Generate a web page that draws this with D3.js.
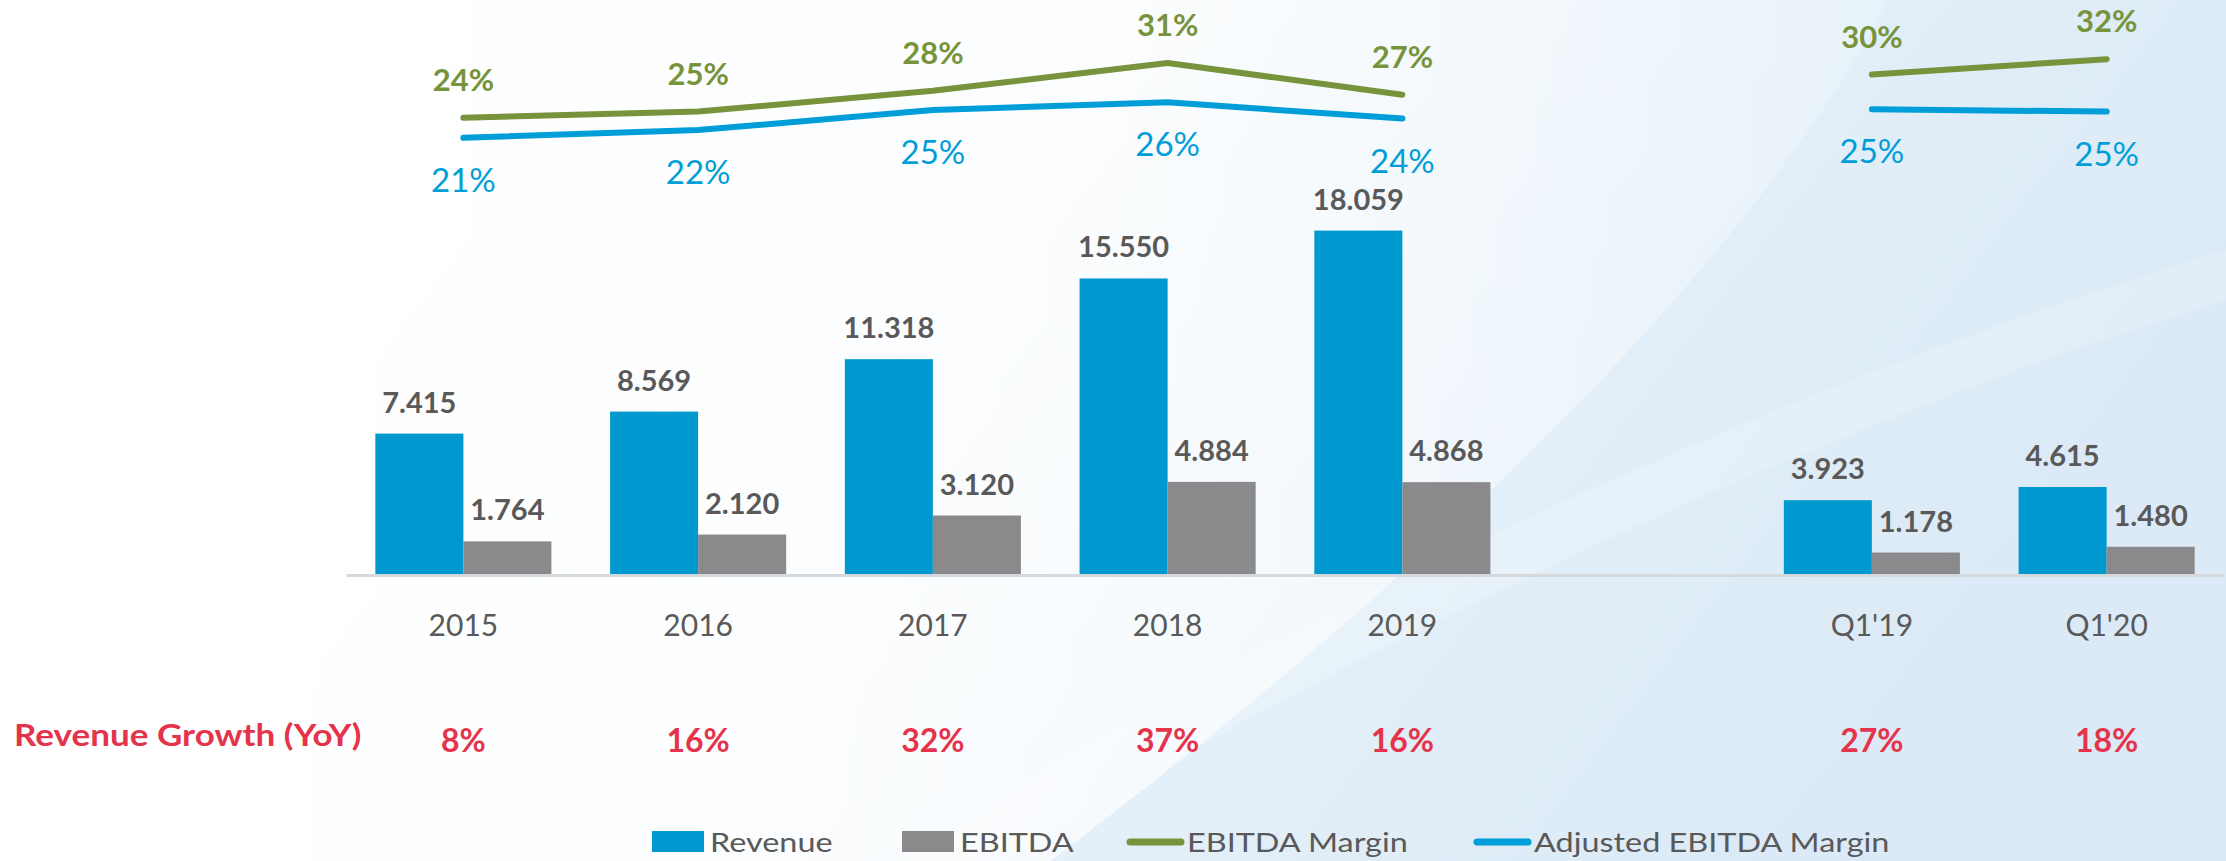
<!DOCTYPE html>
<html><head><meta charset="utf-8">
<script src="https://cdn.jsdelivr.net/npm/d3@7"></script>
<style>
html,body{margin:0;padding:0;background:#fff;}
svg{display:block;}
text{font-family:Lato,"Open Sans",sans-serif;}
</style>
</head><body>
<svg id="chart" width="2226" height="861"></svg>
<script>
// ---- data ----
const categories = ["2015","2016","2017","2018","2019","Q1'19","Q1'20"];
const slots = ["2015","2016","2017","2018","2019","gap","Q1'19","Q1'20"];
const periodType = ["year","year","year","year","year","quarter","quarter"];
const revenue = [7.415, 8.569, 11.318, 15.550, 18.059, 3.923, 4.615];
const ebitda = [1.764, 2.120, 3.120, 4.884, 4.868, 1.178, 1.480];
const ebitdaMargin = [24.0, 24.8, 27.5, 31.1, 27.0, 29.6, 31.6];
const adjEbitdaMargin = [21.4, 22.4, 25.0, 26.0, 23.9, 25.1, 24.8];
const revenueGrowth = [8, 16, 32, 37, 16, 27, 18];
const seriesNames = ["Revenue","EBITDA","EBITDA Margin","Adjusted EBITDA Margin"];
const growthTitle = "Revenue Growth (YoY)";

// ---- styles ----
const C = {rev:"#0099cf", ebit:"#8a8a8c", green:"#77933c", blue:"#009ed8", text:"#595959", red:"#e5334b"};

const svg = d3.select("#chart");
const W = 2226, H = 861;

// background
const defs = svg.append("defs");
const bg = defs.append("linearGradient").attr("id","bg").attr("x1",0).attr("y1",0).attr("x2",1).attr("y2",0.3);
[[0,"#fdfeff"],[0.45,"#f3f8fc"],[0.72,"#e4f0f9"],[1,"#dbeaf6"]].forEach(s=>bg.append("stop").attr("offset",s[0]).attr("stop-color",s[1]));
svg.append("rect").attr("width",W).attr("height",H).attr("fill","url(#bg)");
const sw = defs.append("linearGradient").attr("id","sw").attr("x1",0).attr("y1",0).attr("x2",1).attr("y2",0);
[[0,1],[0.6,0.7],[1,0.2]].forEach(s=>sw.append("stop").attr("offset",s[0]).attr("stop-color","#ffffff").attr("stop-opacity",s[1]));
svg.append("path").attr("d","M0,0 L1889,0 C1750,260 1450,560 1050,861 L0,861 Z").attr("fill","url(#sw)");
svg.append("path").attr("d","M900,861 C1300,600 1800,380 2226,250 L2226,300 C1800,430 1350,650 1000,861 Z").attr("fill","#ffffff").attr("opacity",0.18);

// scales
const x = d3.scaleBand().domain(slots).range([346, 2224]).paddingInner(0.25).paddingOuter(0.125);
const sub = d3.scaleBand().domain(["Revenue","EBITDA"]).range([0, x.bandwidth()]);
const y = d3.scaleLinear().domain([0, 20]).range([575, 193.6]);
const ym = d3.scaleLinear().domain([20, 35]).range([148.6, 33]);

const data = categories.map((c,i)=>({cat:c, type:periodType[i], rev:revenue[i], ebit:ebitda[i],
  em:ebitdaMargin[i], am:adjEbitdaMargin[i], g:revenueGrowth[i]}));
const cx = d => x(d.cat) + x.bandwidth()/2;
const fmt = d3.format(".3f");
const pct = v => d3.format(".0f")(v) + "%";

// bars
const g = svg.append("g");
g.selectAll("rect.rev").data(data).join("rect").attr("class","rev")
  .attr("x", d=>x(d.cat)+sub("Revenue")).attr("width", sub.bandwidth())
  .attr("y", d=>y(d.rev)).attr("height", d=>y(0)-y(d.rev)).attr("fill", C.rev);
g.selectAll("rect.ebit").data(data).join("rect").attr("class","ebit")
  .attr("x", d=>x(d.cat)+sub("EBITDA")).attr("width", sub.bandwidth())
  .attr("y", d=>y(d.ebit)).attr("height", d=>y(0)-y(d.ebit)).attr("fill", C.ebit);

// axis
const ax = svg.append("g").attr("transform",`translate(0,${y(0)})`)
  .call(d3.axisBottom(x).tickSize(0).tickSizeOuter(0).tickFormat(d=>d==="gap"?"":d));
ax.select(".domain").attr("stroke","#d6d9dc").attr("stroke-width",3);
ax.selectAll(".tick text").attr("y",61).attr("dy",0).attr("font-size",30)
  .attr("fill",C.text).style("font-family","Lato, 'Open Sans', sans-serif");

// bar labels
g.selectAll("text.rl").data(data).join("text").attr("class","rl")
  .attr("x", d=>x(d.cat)+sub("Revenue")+sub.bandwidth()/2).attr("y", d=>y(d.rev)-21)
  .attr("text-anchor","middle").attr("font-size",29).attr("font-weight",700).attr("fill",C.text)
  .text(d=>fmt(d.rev));
g.selectAll("text.el").data(data).join("text").attr("class","el")
  .attr("x", d=>x(d.cat)+sub("EBITDA")+sub.bandwidth()/2).attr("y", d=>y(d.ebit)-21)
  .attr("text-anchor","middle").attr("font-size",29).attr("font-weight",700).attr("fill",C.text)
  .text(d=>fmt(d.ebit));

// lines
const groups = d3.groups(data, d=>d.type);
const lineE = d3.line().x(cx).y(d=>ym(d.em));
const lineA = d3.line().x(cx).y(d=>ym(d.am));
groups.forEach(([k, arr])=>{
  svg.append("path").attr("d", lineE(arr)).attr("fill","none").attr("stroke",C.green)
    .attr("stroke-width",6).attr("stroke-linecap","round").attr("stroke-linejoin","round");
  svg.append("path").attr("d", lineA(arr)).attr("fill","none").attr("stroke",C.blue)
    .attr("stroke-width",6).attr("stroke-linecap","round").attr("stroke-linejoin","round");
});
svg.selectAll("text.em").data(data).join("text").attr("class","em")
  .attr("x", cx).attr("y", d=>ym(d.em)-27).attr("text-anchor","middle")
  .attr("font-size",31).attr("font-weight",700).attr("fill",C.green).text(d=>pct(d.em));
svg.selectAll("text.am").data(data).join("text").attr("class","am")
  .attr("x", cx).attr("y", d=>ym(d.am)+54).attr("text-anchor","middle")
  .attr("font-size",33).attr("fill",C.blue).text(d=>pct(d.am));

// growth row
svg.append("text").attr("transform","translate(14,746) scale(1.13,1)")
  .attr("font-size",31).attr("font-weight",700).attr("fill",C.red).text(growthTitle);
svg.selectAll("text.gr").data(data).join("text").attr("class","gr")
  .attr("x", cx).attr("y", 752).attr("text-anchor","middle")
  .attr("font-size",32).attr("font-weight",700).attr("fill",C.red).text(d=>d.g+"%");

// legend
const leg = svg.append("g");
const legItems = [
  {name:seriesNames[0], kind:"rect", color:C.rev, x:652},
  {name:seriesNames[1], kind:"rect", color:C.ebit, x:902},
  {name:seriesNames[2], kind:"line", color:C.green, x:1127},
  {name:seriesNames[3], kind:"line", color:C.blue, x:1474}
];
legItems.forEach(it=>{
  let tx;
  if(it.kind==="rect"){
    leg.append("rect").attr("x",it.x).attr("y",831).attr("width",52).attr("height",21).attr("fill",it.color);
    tx = it.x+58;
  } else {
    leg.append("line").attr("x1",it.x+3).attr("x2",it.x+54).attr("y1",842).attr("y2",842)
      .attr("stroke",it.color).attr("stroke-width",7).attr("stroke-linecap","round");
    tx = it.x+60;
  }
  leg.append("text").attr("transform",`translate(${tx},852) scale(1.2,1)`)
    .attr("font-size",27).attr("fill",C.text).text(it.name);
});
</script>
</body></html>
